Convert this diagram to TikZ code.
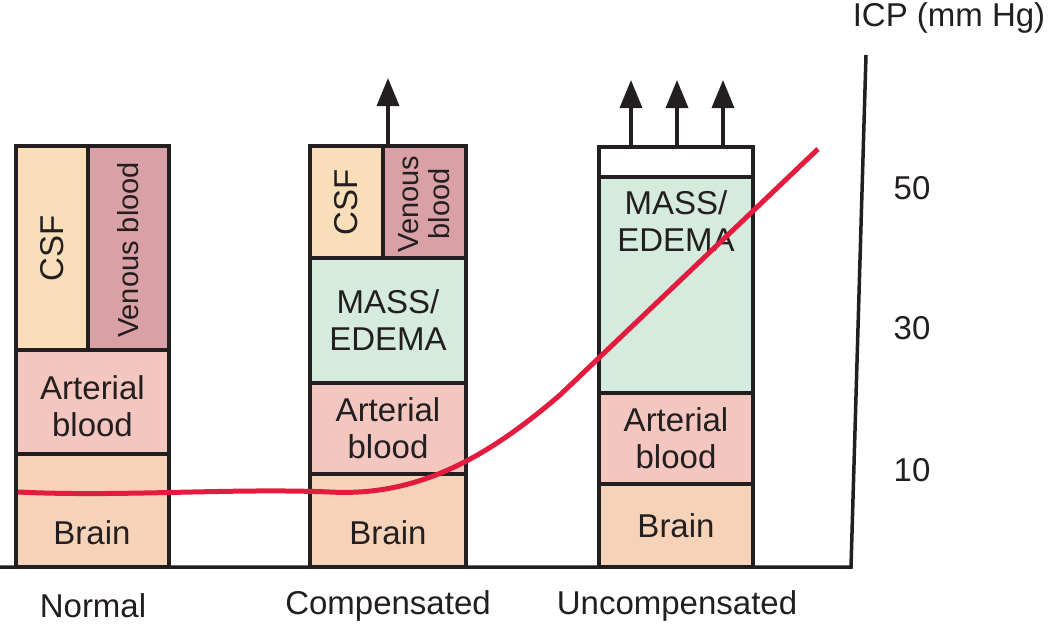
\documentclass[tikz,border=0pt]{standalone}
\usepackage{fontspec}
\setmainfont{Liberation Sans}
\usetikzlibrary{arrows.meta}
\definecolor{ink}{HTML}{231F20}
\definecolor{csfc}{HTML}{F8DFB9}
\definecolor{venc}{HTML}{D9A1A6}
\definecolor{artc}{HTML}{F3C6BF}
\definecolor{brnc}{HTML}{F6D3B8}
\definecolor{masc}{HTML}{D5EBDD}
\definecolor{curvec}{HTML}{E31B3E}
\begin{document}
\begin{tikzpicture}[x=1pt,y=-1pt,
  every node/.style={font=\fontsize{33}{37}\selectfont, text=ink},
  cell/.style={draw=ink, line width=3.5pt, inner sep=0pt, align=center},
  up/.style={draw=ink, line width=3.5pt, -{Triangle[width=22pt,length=28pt]}},
  axisline/.style={draw=ink, line width=3.5pt},
  icp/.style={draw=curvec, line width=5pt},
  vtext/.style={rotate=90, align=center, font=\fontsize{29}{31}\selectfont}
]
\useasboundingbox (0,0) rectangle (1052,626);
\newcommand{\mycell}[6]{%
  \node[cell, fill=#2, minimum width={#5-#3}, minimum height={#6-#4}] (#1) at ({(#3+#5)/2},{(#4+#6)/2}) {};}
% ---------- Normal ----------
\mycell{ncsf}{csfc}{16}{146}{88}{350}
\mycell{nven}{venc}{88}{146}{169}{350}
\mycell{nart}{artc}{16}{350}{169}{454}
\mycell{nbrn}{brnc}{16}{454}{169}{567}
\node[rotate=90] at (ncsf) {CSF};
\node[vtext] at ([yshift=-2pt]nven) {Venous blood};
\node[align=center] at ([yshift=-4pt]nart) {Arterial\\blood};
\node at (92,533) {Brain};
% ---------- Compensated ----------
\mycell{ccsf}{csfc}{310}{146}{383}{258}
\mycell{cven}{venc}{383}{146}{466}{258}
\mycell{cmas}{masc}{310}{258}{466}{383}
\mycell{cart}{artc}{310}{383}{466}{474}
\mycell{cbrn}{brnc}{310}{474}{466}{567}
\node[rotate=90] at (ccsf) {CSF};
\node[vtext] at ([yshift=-2pt]cven) {Venous\\blood};
\node[align=center] at (cmas) {MASS/\\EDEMA};
\node[align=center] at (cart) {Arterial\\blood};
\node at (388,533) {Brain};
\coordinate (ctop) at (388,146);
\coordinate (ctip) at (388,78);
\draw[up] (ctop) -- (ctip);
% ---------- Uncompensated ----------
\mycell{utop}{white}{599}{147}{753}{177}
\mycell{umas}{masc}{599}{177}{753}{393}
\mycell{uart}{artc}{599}{393}{753}{484}
\mycell{ubrn}{brnc}{599}{484}{753}{567}
\node[align=center] at (676,221) {MASS/\\EDEMA};
\node[align=center] at (uart) {Arterial\\blood};
\node at (ubrn) {Brain};
\foreach \i/\xx in {1/631,2/677,3/723}{
  \coordinate (ua\i) at (\xx,147);
  \coordinate (ut\i) at (\xx,80);
  \draw[up] (ua\i) -- (ut\i);
}
% ---------- axes ----------
\coordinate (o) at (0,567);
\coordinate (corner) at (851,567);
\coordinate (ytop) at (866,55);
\draw[axisline] (o) -- (corner) -- (ytop);
\node at (912,188) {50};
\node at (912,328) {30};
\node at (912,470) {10};
\node at (949,18) {ICP (mm Hg)};
% ---------- labels ----------
\node at (93,606) {Normal};
\node at (388,606) {Compensated};
\node at (677,606) {Uncompensated};
% ---------- ICP curve ----------
\coordinate (c0) at (18,492);
\coordinate (c1) at (330,492);
\coordinate (c2) at (560,395);
\coordinate (c3) at (818,149);
\draw[icp] (c0) .. controls (120,497) and (230,488) .. (c1)
  .. controls (420,497) and (490,455) .. (c2)
  -- (c3);
\end{tikzpicture}
\end{document}
